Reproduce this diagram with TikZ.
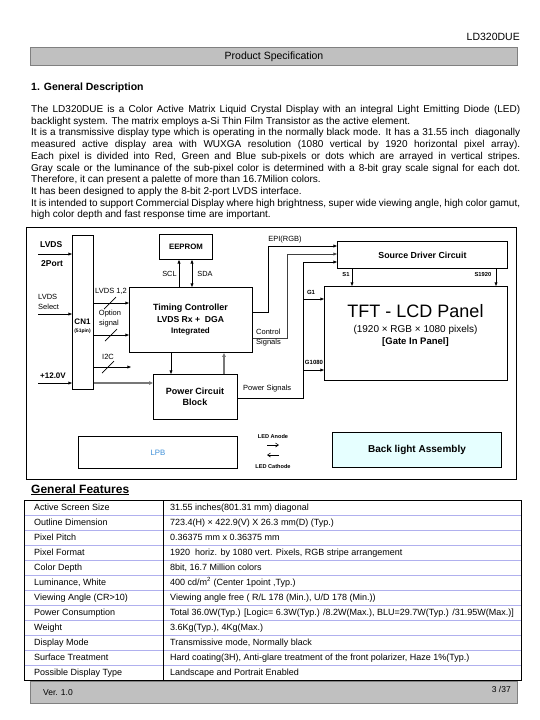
\documentclass[tikz,border=0pt]{standalone}
\usepackage{fontspec}
\setmainfont{Liberation Sans}
\usetikzlibrary{arrows.meta,calc}
\newcommand{\myfs}[1]{\fontsize{#1}{#1}\selectfont}
\definecolor{hdrgray}{HTML}{C0C0C0}
\definecolor{hdrline}{HTML}{808080}
\definecolor{rowline}{HTML}{B0B0EE}
\definecolor{lpbblue}{HTML}{3D8FD8}
\definecolor{blufill}{HTML}{E6FFFF}
\definecolor{sigray}{HTML}{777777}
\begin{document}
\begin{tikzpicture}[x=1pt,y=-1pt,
  box/.style={draw, line width=0.9pt, inner sep=0pt, anchor=north west},
  arr/.style={-{Triangle[length=3.6pt,width=2.8pt]}, line width=0.7pt},
  darr/.style={{Triangle[length=3.6pt,width=2.8pt]}-{Triangle[length=3.6pt,width=2.8pt]}, line width=0.7pt},
  garr/.style={-{Triangle[length=4pt,width=3.4pt]}, line width=1.6pt, draw=sigray, fill=sigray},
  wire/.style={line width=0.7pt},
  lab/.style={inner sep=0pt},
  para/.style={inner sep=0pt, anchor=base west, font=\myfs{10}},
  cell/.style={inner sep=0pt, anchor=base west, font=\myfs{9}},
]
\useasboundingbox (0,0) rectangle (540,720);

% ---------- header ----------
\node[lab, anchor=east, font=\myfs{10.5}] (docid) at (520,37) {LD320DUE};
\node[box, draw=hdrline, fill=hdrgray, line width=1pt, minimum width=487pt, minimum height=18pt,
      font=\myfs{10.5}] (hdr) at (30,47) {Product Specification};
\node[lab, anchor=base west, font=\myfs{10.5}\bfseries] (sec) at (31,90) {1. General Description};

% ---------- paragraph ----------
\node[para] (p1) at (31,112.5) {\makebox[489pt][s]{The LD320DUE is a Color Active Matrix Liquid Crystal Display with an integral Light Emitting Diode (LED)}};
\node[para] (p2) at (31,124.2) {backlight system. The matrix employs a-Si Thin Film Transistor as the active element.};
\node[para] (p3) at (31,135.9) {\makebox[489pt][s]{It is a transmissive display type which is operating in the normally black mode. It has a 31.55 inch~ diagonally}};
\node[para] (p4) at (31,147.6) {\makebox[489pt][s]{measured active display area with WUXGA resolution (1080 vertical by 1920 horizontal pixel array).}};
\node[para] (p5) at (31,159.3) {\makebox[489pt][s]{Each pixel is divided into Red, Green and Blue sub-pixels or dots which are arrayed in vertical stripes.}};
\node[para] (p6) at (31,171.0) {\makebox[489pt][s]{Gray scale or the luminance of the sub-pixel color is determined with a 8-bit gray scale signal for each dot.}};
\node[para] (p7) at (31,182.7) {Therefore, it can present a palette of more than 16.7Milion colors.};
\node[para] (p8) at (31,194.4) {It has been designed to apply the 8-bit 2-port LVDS interface.};
\node[para] (p9) at (31,206.1) {\makebox[489pt][s]{It is intended to support Commercial Display where high brightness, super wide viewing angle, high color gamut,}};
\node[para] (p10) at (31,217.8) {high color depth and fast response time are important.};

% ---------- block diagram ----------
\node[box, minimum width=490pt, minimum height=252pt] (frame) at (26,227) {};

\node[box, minimum width=21pt, minimum height=154pt] (cn1) at (72,235) {};
\node[lab, font=\myfs{8}\bfseries] (cn1t) at (82.5,322) {CN1};
\node[lab, font=\myfs{5}\bfseries] (cn1p) at (82.5,331) {(51pin)};

\node[box, minimum width=53pt, minimum height=25pt, font=\myfs{7.8}\bfseries] (eeprom) at (159,234) {EEPROM};
\node[box, minimum width=123pt, minimum height=65pt] (tc) at (129,287) {};
\node[lab, font=\myfs{9}\bfseries] (tc1) at (190.5,308) {Timing Controller};
\node[lab, font=\myfs{8.6}\bfseries] (tc2) at (190.5,319.5) {LVDS Rx +~ DGA};
\node[lab, font=\myfs{8}\bfseries] (tc3) at (190.5,331) {Integrated};

\node[box, minimum width=84pt, minimum height=45pt] (power) at (153,374) {};
\node[lab, font=\myfs{9}\bfseries] (pw1) at (195,391) {Power Circuit};
\node[lab, font=\myfs{9}\bfseries] (pw2) at (195,402.5) {Block};

\node[box, minimum width=170pt, minimum height=27pt, font=\myfs{8.8}\bfseries] (src) at (337,241) {Source Driver Circuit};
\node[box, minimum width=183pt, minimum height=94pt] (tft) at (324,286) {};
\node[lab, font=\myfs{18}] (tft1) at (415.5,311) {TFT - LCD Panel};
\node[lab, font=\myfs{10}] (tft2) at (415.5,330) {(1920 × RGB × 1080 pixels)};
\node[lab, font=\myfs{9.5}\bfseries] (tft3) at (415.5,342) {[Gate In Panel]};

\node[box, minimum width=159pt, minimum height=32pt, font=\myfs{7.8}, text=lpbblue] (lpb) at (78,436) {LPB};
\node[box, minimum width=169pt, minimum height=35pt, fill=blufill, font=\myfs{10}\bfseries] (blu) at (332,432) {Back light Assembly};

% left labels
\node[lab, anchor=west, font=\myfs{8.5}\bfseries] (lvdsl) at (40,245) {LVDS};
\node[lab, anchor=west, font=\myfs{8.5}\bfseries] (port) at (41,264) {2Port};
\node[lab, anchor=west, font=\myfs{7.5}] (sel1) at (38,297) {LVDS};
\node[lab, anchor=west, font=\myfs{7.5}] (sel2) at (38,307) {Select};
\node[lab, anchor=west, font=\myfs{8}\bfseries] (v12) at (40,376) {+12.0V};

\coordinate (lvin) at (38,254);
\coordinate (selin) at (38,314);
\coordinate (vin) at (38,383);
\draw[arr] (lvin) -- (lvin -| cn1.west);
\draw[arr] (selin) -- (selin -| cn1.west);
\draw[arr] (vin) -- (vin -| cn1.west);

% CN1 -> TC
\coordinate (y303) at (0,303);
\coordinate (y335) at (0,335);
\coordinate (y367) at (0,367);
\coordinate (y383) at (0,383);
\coordinate (i2cend) at (131,367);
\draw[arr] (cn1.east |- y303) -- (tc.west |- y303);
\draw[arr] (cn1.east |- y335) -- (tc.west |- y335);
\draw[arr] (cn1.east |- y367) -- (i2cend);
\draw[garr] (cn1.east |- y383) -- (power.west |- y383);
\draw[wire] (104,309) -- (116,297);
\draw[wire] (105,341) -- (117,329);
\draw[wire] (102,373) -- (114,361);
\node[lab, font=\myfs{7.5}] (l12) at (111,291) {LVDS 1,2};
\node[lab, font=\myfs{7.5}] (opt1) at (110,314) {Option};
\node[lab, font=\myfs{7.5}] (opt2) at (109,324) {signal};
\node[lab, font=\myfs{7.5}] (i2c) at (108,357) {I2C};

% EEPROM links
\coordinate (x179) at (179,0);
\coordinate (x192) at (192,0);
\draw[arr] (tc.north -| x179) -- (eeprom.south -| x179);
\draw[darr] (tc.north -| x192) -- (eeprom.south -| x192);
\node[lab, font=\myfs{7.4}] (scl) at (169.5,274) {SCL};
\node[lab, font=\myfs{7.4}] (sda) at (205,274) {SDA};

% TC <-> power
\coordinate (x171) at (171,0);
\coordinate (x224) at (224,0);
\draw[arr] (tc.south -| x171) -- (power.north -| x171);
\draw[garr, line width=1.3pt] (power.north -| x224) -- (tc.south -| x224);

% to source driver
\coordinate (y312) at (0,312);
\coordinate (y338) at (0,338);
\coordinate (y398) at (0,398);
\coordinate (x268) at (268,0);
\coordinate (x287) at (287,0);
\coordinate (x303) at (303,0);
\coordinate (y246) at (0,246);
\coordinate (y254) at (0,254);
\coordinate (y262) at (0,262);
\draw[arr] (tc.east |- y312) -| (x268 |- y246) -- (src.west |- y246);
\draw[arr, draw=black!75] (tc.east |- y338) -| (x287 |- y254) -- (src.west |- y254);
\draw[arr] (power.east |- y398) -| (x303 |- y262) -- (src.west |- y262);
\node[lab, font=\myfs{7.5}] (epi) at (285,240) {EPI(RGB)};
\node[lab, anchor=west, font=\myfs{7.5}] (ctl1) at (256,332) {Control};
\node[lab, anchor=west, font=\myfs{7.5}] (ctl2) at (256,343) {Signals};
\node[lab, anchor=west, font=\myfs{7.5}] (psig) at (243,389) {Power Signals};

% source -> TFT
\coordinate (x352) at (352,0);
\coordinate (x496) at (496,0);
\draw[arr] (src.south -| x352) -- (tft.north -| x352);
\draw[arr] (src.south -| x496) -- (tft.north -| x496);
\node[lab, font=\myfs{5.8}\bfseries] (s1) at (346,274) {S1};
\node[lab, font=\myfs{5.8}\bfseries] (s1920) at (483,274) {S1920};

% gate lines
\coordinate (g1in) at (304,299);
\coordinate (g2in) at (304,370);
\draw[arr] (g1in) -- (tft.west |- g1in);
\draw[arr] (g2in) -- (tft.west |- g2in);
\node[lab, font=\myfs{6}\bfseries] (g1) at (311,292) {G1};
\node[lab, font=\myfs{6}\bfseries] (g1080) at (314,362) {G1080};

% LED
\node[lab, font=\myfs{5.6}\bfseries] (ledA) at (273,436) {LED Anode};
\node[lab, font=\myfs{5.6}\bfseries] (ledC) at (273,466) {LED Cathode};
\coordinate (la1) at (267,445);
\coordinate (la2) at (279,445);
\coordinate (lc1) at (279,455);
\coordinate (lc2) at (267,455);
\draw[-{Straight Barb[length=3pt,width=4pt]}, line width=0.6pt] (la1) -- (la2);
\draw[-{Straight Barb[length=3pt,width=4pt]}, line width=0.6pt] (lc1) -- (lc2);

% ---------- General features ----------
\node[lab, anchor=base west, font=\myfs{12}\bfseries] (gf) at (31,493) {\underline{General Features}};
\node[draw, line width=0.9pt, inner sep=0pt, anchor=north west, minimum width=497pt, minimum height=180pt] (tbl) at (24,500) {};
\foreach \k in {1,...,11} {
  \draw[rowline, line width=0.8pt] ($(tbl.north west)+(0.5,15*\k)$) -- ($(tbl.north east)+(-0.5,15*\k)$);
}
\coordinate (divx) at (163,0);
\draw[line width=1pt] (tbl.north -| divx) -- (tbl.south -| divx);

\node[cell] (a1) at (34,510.7) {Active Screen Size};
\node[cell] (b1) at (170,510.7) {31.55 inches(801.31 mm) diagonal};
\node[cell] (a2) at (34,525.7) {Outline Dimension};
\node[cell] (b2) at (170,525.7) {723.4(H) × 422.9(V) X 26.3 mm(D) (Typ.)};
\node[cell] (a3) at (34,540.7) {Pixel Pitch};
\node[cell] (b3) at (170,540.7) {0.36375 mm x 0.36375 mm};
\node[cell] (a4) at (34,555.7) {Pixel Format};
\node[cell] (b4) at (170,555.7) {1920~ horiz. by 1080 vert. Pixels, RGB stripe arrangement};
\node[cell] (a5) at (34,570.7) {Color Depth};
\node[cell] (b5) at (170,570.7) {8bit, 16.7 Million colors};
\node[cell] (a6) at (34,585.7) {Luminance, White};
\node[cell] (b6) at (170,585.7) {400 cd/m\textsuperscript{2} (Center 1point ,Typ.)};
\node[cell] (a7) at (34,600.7) {Viewing Angle (CR>10)};
\node[cell] (b7) at (170,600.7) {Viewing angle free ( R/L 178 (Min.), U/D 178 (Min.))};
\node[cell] (a8) at (34,615.7) {Power Consumption};
\node[cell] (b8) at (170,615.7) {Total 36.0W(Typ.) [Logic= 6.3W(Typ.) /8.2W(Max.), BLU=29.7W(Typ.) /31.95W(Max.)]};
\node[cell] (a9) at (34,630.7) {Weight};
\node[cell] (b9) at (170,630.7) {3.6Kg(Typ.), 4Kg(Max.)};
\node[cell] (a10) at (34,645.7) {Display Mode};
\node[cell] (b10) at (170,645.7) {Transmissive mode, Normally black};
\node[cell] (a11) at (34,660.7) {Surface Treatment};
\node[cell] (b11) at (170,660.7) {Hard coating(3H), Anti-glare treatment of the front polarizer, Haze 1\%(Typ.)};
\node[cell] (a12) at (34,675.7) {Possible Display Type};
\node[cell] (b12) at (170,675.7) {Landscape and Portrait Enabled};

% ---------- footer ----------
\node[box, draw=hdrline, fill=hdrgray, line width=1pt, minimum width=487pt, minimum height=22pt] (ftr) at (30,681) {};
\node[lab, anchor=west, font=\myfs{8.5}] (ver) at (43,693) {Ver. 1.0};
\node[lab, anchor=east, font=\myfs{8.5}] (pg) at (511,689) {3 /37};
\end{tikzpicture}
\end{document}
